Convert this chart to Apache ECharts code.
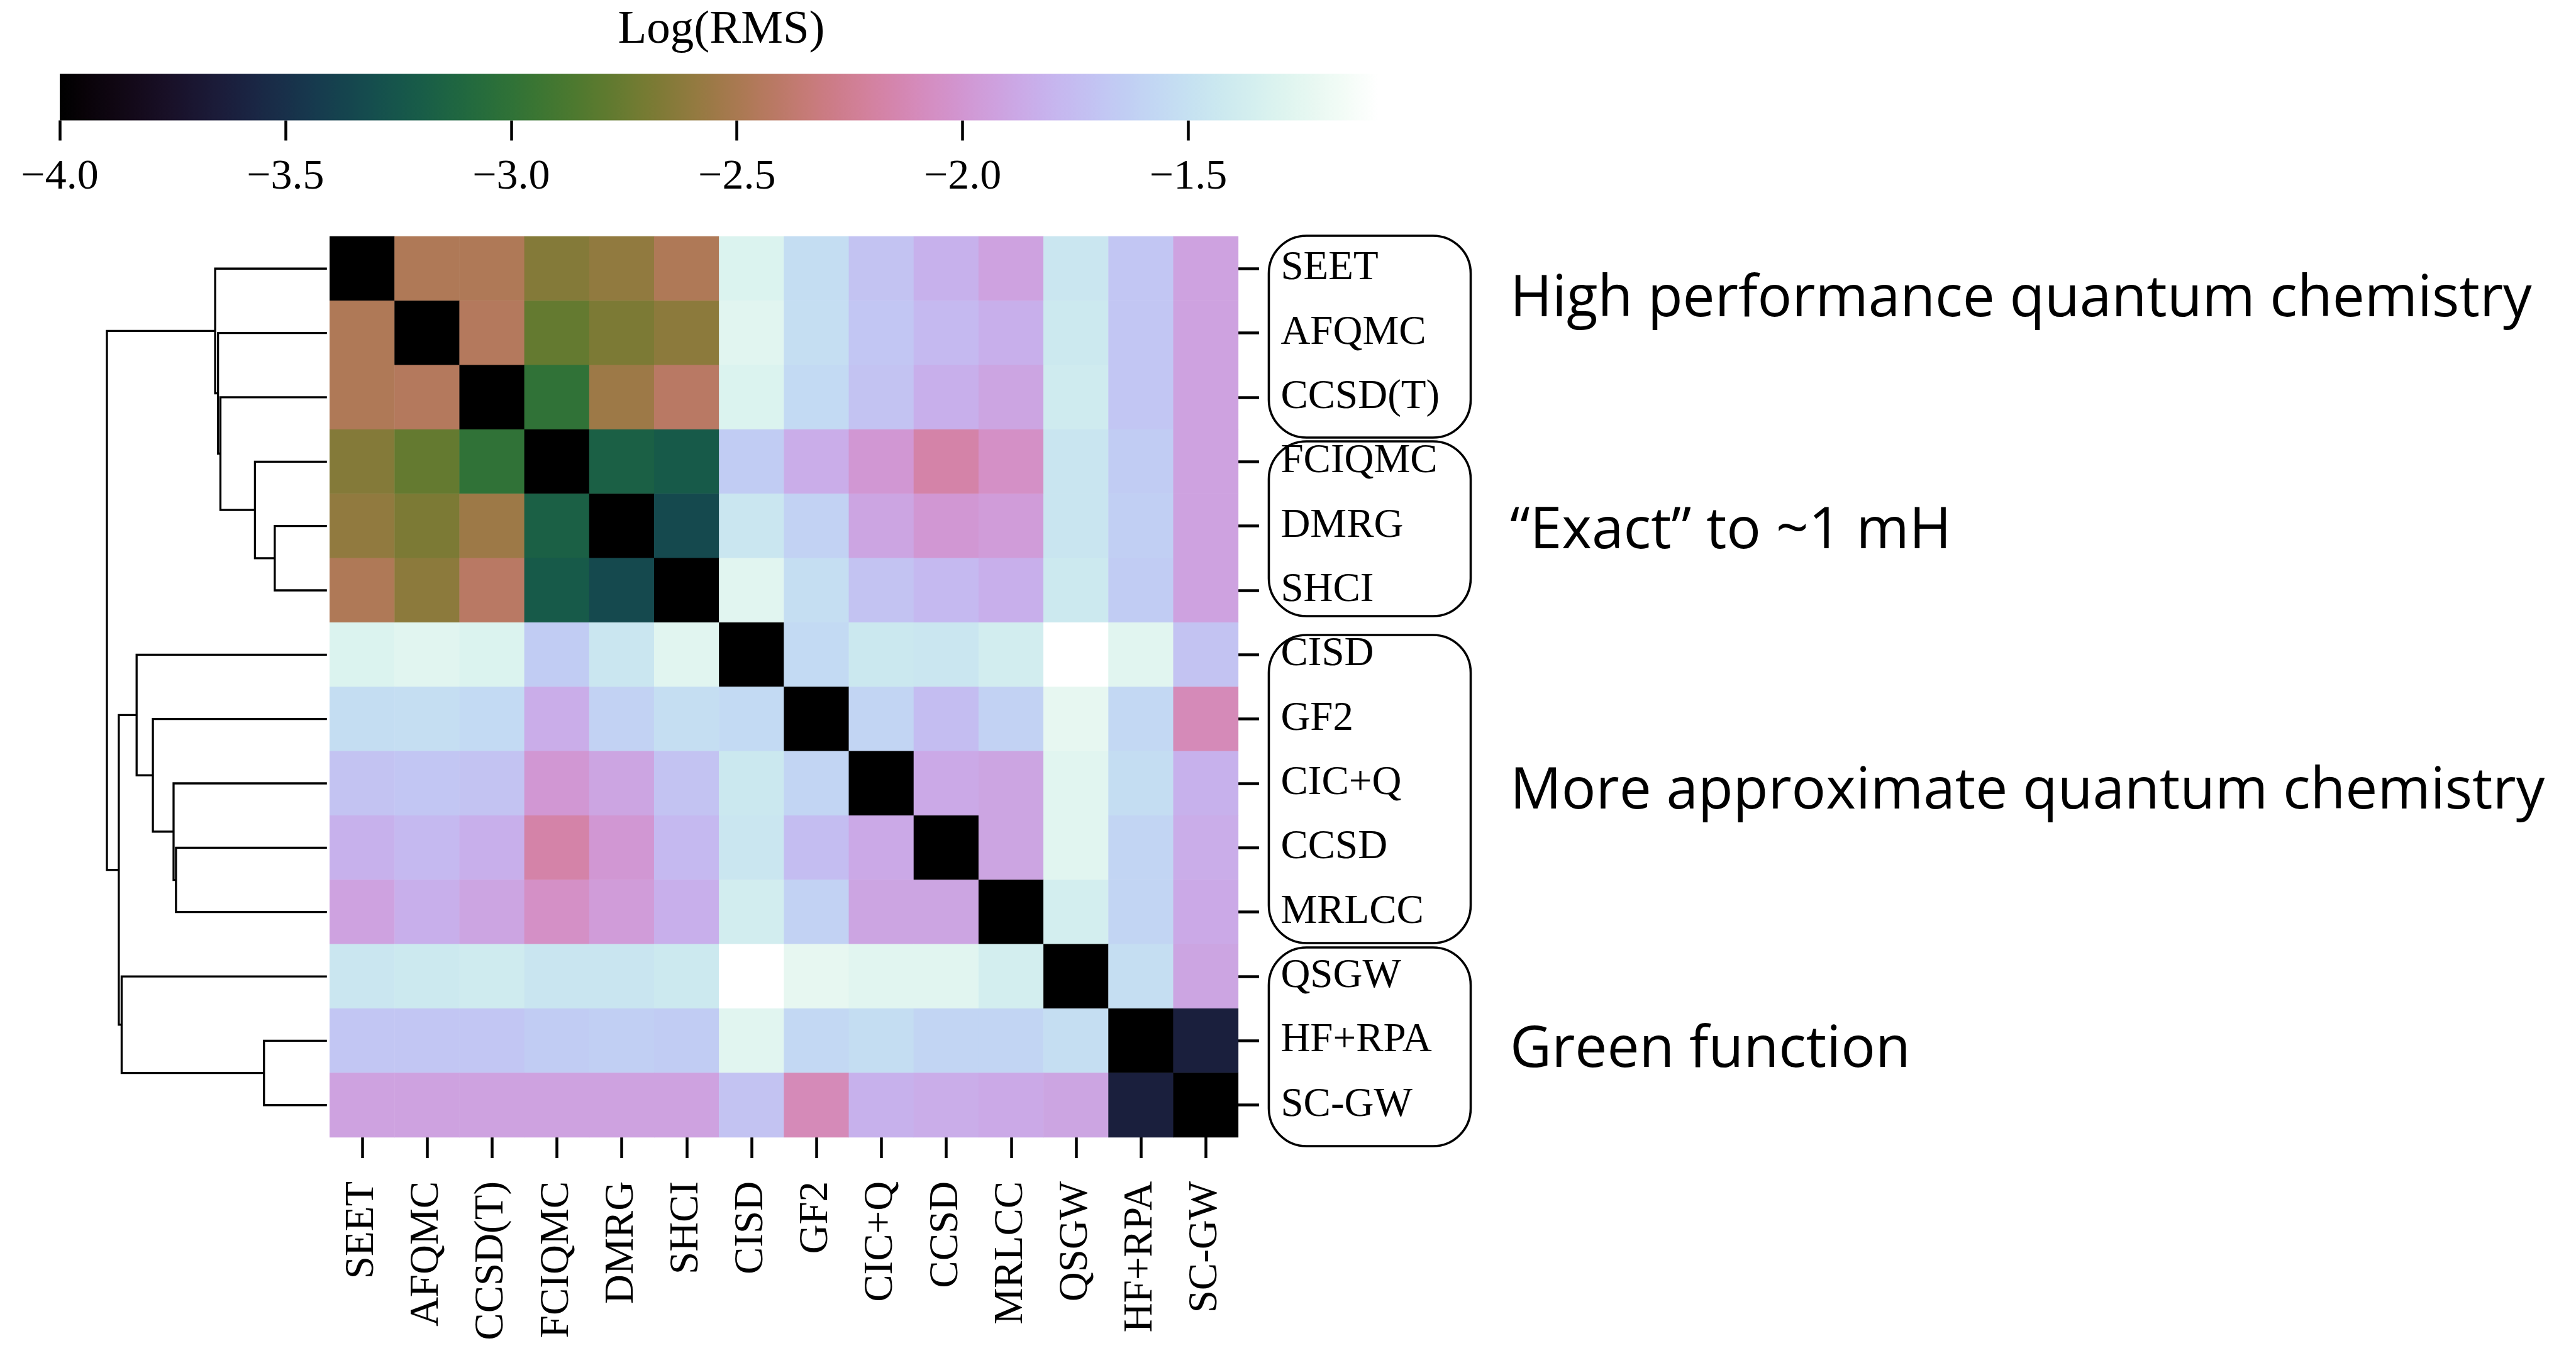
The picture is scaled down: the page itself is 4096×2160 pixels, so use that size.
<!DOCTYPE html>
<html>
<head>
<meta charset="utf-8">
<title>Log(RMS) clustermap</title>
<script src="https://cdn.jsdelivr.net/npm/echarts@6/dist/echarts.min.js"></script>
<style>
  html, body { margin: 0; padding: 0; background: #ffffff; }
  #chart { width: 4096px; height: 2160px; }
</style>
</head>
<body>
<div id="chart"></div>
<script>
// Methods in dendrogram leaf order (rows top to bottom, columns left to right)
const methods = ['SEET', 'AFQMC', 'CCSD(T)', 'FCIQMC', 'DMRG', 'SHCI', 'CISD',
                 'GF2', 'CIC+Q', 'CCSD', 'MRLCC', 'QSGW', 'HF+RPA', 'SC-GW'];

// Pairwise log10 RMS deviation between methods (diagonal pinned to the scale floor)
const logRms = [
  [-4.00, -2.47, -2.47, -2.65, -2.60, -2.47, -1.31, -1.53, -1.71, -1.82, -1.92, -1.45, -1.69, -1.92],
  [-2.47, -4.00, -2.45, -2.77, -2.68, -2.62, -1.27, -1.52, -1.69, -1.77, -1.83, -1.42, -1.69, -1.92],
  [-2.47, -2.45, -4.00, -3.00, -2.55, -2.42, -1.31, -1.55, -1.71, -1.83, -1.90, -1.40, -1.69, -1.92],
  [-2.65, -2.77, -3.00, -4.00, -3.17, -3.22, -1.65, -1.85, -1.99, -2.17, -2.05, -1.46, -1.65, -1.92],
  [-2.60, -2.68, -2.55, -3.17, -4.00, -3.34, -1.45, -1.61, -1.90, -1.99, -1.96, -1.46, -1.63, -1.92],
  [-2.47, -2.62, -2.42, -3.22, -3.34, -4.00, -1.27, -1.52, -1.71, -1.77, -1.83, -1.42, -1.65, -1.92],
  [-1.31, -1.27, -1.31, -1.65, -1.45, -1.27, -4.00, -1.55, -1.43, -1.45, -1.38, -1.08, -1.27, -1.71],
  [-1.53, -1.52, -1.55, -1.85, -1.61, -1.52, -1.55, -4.00, -1.59, -1.75, -1.61, -1.23, -1.57, -2.11],
  [-1.71, -1.69, -1.71, -1.99, -1.90, -1.71, -1.43, -1.59, -4.00, -1.87, -1.90, -1.27, -1.53, -1.82],
  [-1.82, -1.77, -1.83, -2.17, -1.99, -1.77, -1.45, -1.75, -1.87, -4.00, -1.90, -1.27, -1.59, -1.85],
  [-1.92, -1.83, -1.90, -2.05, -1.96, -1.83, -1.38, -1.61, -1.90, -1.90, -4.00, -1.36, -1.59, -1.87],
  [-1.45, -1.42, -1.40, -1.46, -1.46, -1.42, -1.08, -1.23, -1.27, -1.27, -1.36, -4.00, -1.52, -1.90],
  [-1.69, -1.69, -1.69, -1.65, -1.63, -1.65, -1.27, -1.57, -1.53, -1.59, -1.59, -1.52, -4.00, -3.62],
  [-1.92, -1.92, -1.92, -1.92, -1.92, -1.92, -1.71, -2.11, -1.82, -1.85, -1.87, -1.90, -3.62, -4.00]
];

// Hierarchical clustering merges: [child A, child B, merge distance (relative to root)].
// Ids 0-13 are the methods above; each merge creates the next id (14, 15, ...).
const linkage = [
  [4, 5, 0.237],    // 14: DMRG + SHCI
  [12, 13, 0.286],  // 15: HF+RPA + SC-GW
  [3, 14, 0.327],   // 16
  [2, 16, 0.484],   // 17
  [1, 17, 0.495],   // 18
  [0, 18, 0.508],   // 19
  [9, 10, 0.686],   // 20: CCSD + MRLCC
  [8, 20, 0.697],   // 21
  [7, 21, 0.791],   // 22
  [6, 22, 0.865],   // 23
  [11, 15, 0.933],  // 24
  [23, 24, 0.946],  // 25
  [19, 25, 1.000]   // 26: root
];

// Colour scale
const colorMin = -4.0;
const colorMax = -1.08;
const colorTicks = [-4.0, -3.5, -3.0, -2.5, -2.0, -1.5];

// Method families annotated on the right
const groupNames = ['High performance quantum chemistry', '\u201CExact\u201D to ~1 mH',
                    'More approximate quantum chemistry', 'Green function'];

// ---------------------------------------------------------------------------
// cubehelix colour map (start 0.5, rotations -1.5, hue 1.0, gamma 1.0)
function cubehelix(x) {
  const phi = 2 * Math.PI * (0.5 / 3 - 1.5 * x);
  const a = x * (1 - x) / 2;
  const c = Math.cos(phi), s = Math.sin(phi);
  const ch = [
    x + a * (-0.14861 * c + 1.78277 * s),
    x + a * (-0.29227 * c - 0.90649 * s),
    x + a * (1.97294 * c)
  ].map(v => Math.round(Math.min(1, Math.max(0, v)) * 255));
  return 'rgb(' + ch.join(',') + ')';
}
const N_STOPS = 129;
const rampColors = [];
for (let i = 0; i < N_STOPS; i++) rampColors.push(cubehelix(i / (N_STOPS - 1)));
const rampStops = rampColors.map((c, i) => ({ offset: i / (N_STOPS - 1), color: c }));

// heatmap cells [column, row, value]
const cells = [];
logRms.forEach((row, r) => row.forEach((v, c) => cells.push([c, r, v])));

// dendrogram U-links: [yA, yB, hA, hB, h]
const nodeY = methods.map((_, i) => i + 0.5);
const nodeH = methods.map(() => 0);
const links = linkage.map(([a, b, h]) => {
  const link = [nodeY[a], nodeY[b], nodeH[a], nodeH[b], h];
  nodeY.push((nodeY[a] + nodeY[b]) / 2);
  nodeH.push(h);
  return link;
});

// ---------------------------------------------------------------------------
const SERIF = '"Liberation Serif", "DejaVu Serif", serif';
const SANS = '"Open Sans", "Noto Sans", sans-serif';

const heat = { left: 524.3, top: 376.1, width: 1444.6, height: 1432.8 };
const dendro = { left: 170, right: 519.8 };
const bar = { left: 95, right: 2191, top: 117.5, height: 74 };

const tickStyle = { color: '#000', width: 4.5 };
const fmtMinus = v => (v < 0 ? '\u2212' : '') + Math.abs(v).toFixed(1);
const LABEL_SIZE = 65;
const FAMILY_FONT = '91px ' + SANS;

const chart = echarts.init(document.getElementById('chart'), null, { renderer: 'canvas' });

const option = {
  backgroundColor: '#ffffff',
  animation: false,
  grid: [
    { left: heat.left, top: heat.top, width: heat.width, height: heat.height },
    { left: dendro.left, top: heat.top, width: dendro.right - dendro.left, height: heat.height },
    { left: bar.left, top: bar.top, width: bar.right - bar.left, height: bar.height }
  ],
  xAxis: [
    {
      gridIndex: 0, type: 'category', data: methods, position: 'bottom',
      axisLine: { show: false }, splitLine: { show: false },
      axisTick: { show: true, alignWithLabel: true, interval: 0, length: 33, lineStyle: tickStyle },
      axisLabel: { interval: 0, rotate: 90, margin: 70, color: '#000', fontFamily: SERIF, fontSize: LABEL_SIZE }
    },
    {
      gridIndex: 1, type: 'value', min: 0, max: 1, inverse: true, show: false
    },
    {
      gridIndex: 2, type: 'value', min: colorMin, max: colorMax, position: 'bottom',
      axisLine: { show: false }, splitLine: { show: false },
      axisTick: { show: true, length: 32, lineStyle: tickStyle, customValues: colorTicks },
      axisLabel: { customValues: colorTicks, formatter: fmtMinus, margin: 57,
                   color: '#000', fontFamily: SERIF, fontSize: 68 }
    }
  ],
  yAxis: [
    {
      gridIndex: 0, type: 'category', data: methods, inverse: true, position: 'right',
      axisLine: { show: false }, splitLine: { show: false },
      axisTick: { show: true, alignWithLabel: true, interval: 0, length: 33, lineStyle: tickStyle },
      axisLabel: { interval: 0, margin: 67.5, padding: [10, 0, 0, 0], color: '#000',
                   fontFamily: SERIF, fontSize: LABEL_SIZE }
    },
    {
      gridIndex: 1, type: 'value', min: 0, max: methods.length, inverse: true, show: false
    },
    {
      gridIndex: 2, type: 'value', min: 0, max: 1, show: false
    }
  ],
  visualMap: {
    type: 'continuous', show: false, seriesIndex: 0, dimension: 2,
    min: colorMin, max: colorMax, inRange: { color: rampColors }
  },
  series: [
    {
      type: 'heatmap', xAxisIndex: 0, yAxisIndex: 0, data: cells,
      itemStyle: { borderWidth: 0 }, emphasis: { disabled: true }, progressive: 0
    },
    {
      type: 'custom', xAxisIndex: 1, yAxisIndex: 1, data: links, silent: true,
      renderItem: (params, api) => {
        const yA = api.value(0), yB = api.value(1), hA = api.value(2), hB = api.value(3), h = api.value(4);
        const pts = [api.coord([hA, yA]), api.coord([h, yA]), api.coord([h, yB]), api.coord([hB, yB])];
        return {
          type: 'polyline', shape: { points: pts },
          style: { stroke: '#000', lineWidth: 3.3, fill: null, lineJoin: 'miter' }
        };
      }
    },
    {
      type: 'custom', xAxisIndex: 2, yAxisIndex: 2, data: [[colorMin, colorMax]], silent: true,
      renderItem: (params, api) => {
        const p0 = api.coord([api.value(0), 0]);
        const p1 = api.coord([api.value(1), 1]);
        return {
          type: 'rect',
          shape: { x: p0[0], y: p1[1], width: p1[0] - p0[0], height: p0[1] - p1[1] },
          style: { fill: new echarts.graphic.LinearGradient(0, 0, 1, 0, rampStops) }
        };
      }
    }
  ],
  graphic: [
    { type: 'text', x: 1147, y: 48,
      style: { text: 'Log(RMS)', font: '75px ' + SERIF, fill: '#000', align: 'center', verticalAlign: 'middle' } },
    // rounded frames around the method families
    { type: 'rect', shape: { x: 2017.5, y: 375, width: 321, height: 321, r: 60 },
      style: { fill: 'none', stroke: '#000', lineWidth: 3.6 } },
    { type: 'rect', shape: { x: 2017.5, y: 702, width: 321, height: 278, r: 60 },
      style: { fill: 'none', stroke: '#000', lineWidth: 3.6 } },
    { type: 'rect', shape: { x: 2017.5, y: 1010, width: 321, height: 490, r: 60 },
      style: { fill: 'none', stroke: '#000', lineWidth: 3.6 } },
    { type: 'rect', shape: { x: 2017.5, y: 1507, width: 321, height: 316, r: 60 },
      style: { fill: 'none', stroke: '#000', lineWidth: 3.6 } },
    // family names
    { type: 'text', x: 2401, y: 477,
      style: { text: groupNames[0], font: FAMILY_FONT, fill: '#000', verticalAlign: 'middle' } },
    { type: 'text', x: 2401, y: 846,
      style: { text: groupNames[1], font: FAMILY_FONT, fill: '#000', verticalAlign: 'middle' } },
    { type: 'text', x: 2401, y: 1260,
      style: { text: groupNames[2], font: FAMILY_FONT, fill: '#000', verticalAlign: 'middle' } },
    { type: 'text', x: 2401, y: 1671,
      style: { text: groupNames[3], font: FAMILY_FONT, fill: '#000', verticalAlign: 'middle' } }
  ]
};

chart.setOption(option);
</script>
</body>
</html>
